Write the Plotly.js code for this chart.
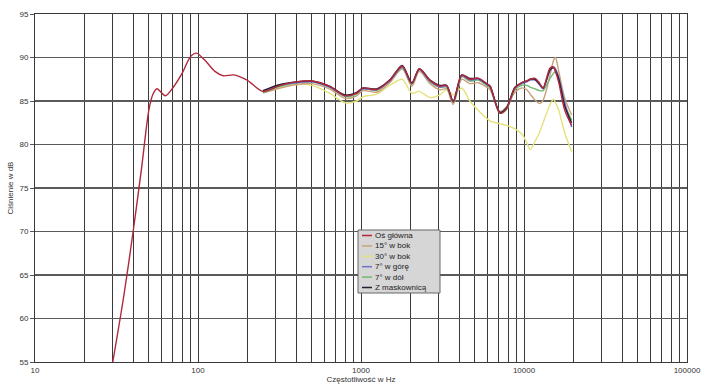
<!DOCTYPE html>
<html>
<head>
<meta charset="utf-8">
<script src="https://cdn.plot.ly/plotly-3.0.1.min.js"></script>
<style>html,body{margin:0;padding:0;background:#fff;}#chart{width:705px;height:389px;}</style>
</head>
<body>
<div id="chart"></div>
<script>
// Frequencies (Hz)
const freqLow = [30, 35, 40, 45, 50, 53, 56, 63, 70, 80, 90, 98, 110, 127, 143, 165, 200];
const freqHi = [250, 320, 400, 500, 640, 800, 940, 1030, 1250, 1500, 1790, 2050, 2280, 2650, 3050, 3350, 3680, 4150, 4650, 5250, 5900, 6200, 7100, 7800, 8800, 9700, 10400, 10900, 11700, 12400, 13100, 14450, 15200, 15600, 16300, 17800, 19600];

// SPL values (dB)
const mainLow = [55.0, 62.5, 70.0, 77.2, 84.0, 85.8, 86.4, 85.6, 86.5, 88.2, 90.1, 90.5, 89.7, 88.4, 87.9, 88.0, 87.4];
const mainHi = [86.1, 86.8, 87.2, 87.3, 86.7, 85.6, 85.9, 86.5, 86.3, 87.4, 89.0, 87.0, 88.7, 87.4, 86.7, 86.8, 84.9, 88.0, 87.5, 87.6, 87.0, 86.7, 83.6, 84.1, 86.5, 87.1, 87.3, 87.5, 87.6, 87.1, 86.5, 88.8, 88.9, 88.4, 87.2, 83.9, 82.2];
const side15 = [85.9, 86.5, 86.9, 87.0, 86.4, 85.3, 85.6, 86.2, 86.0, 87.1, 88.7, 86.7, 88.4, 87.0, 86.3, 86.4, 84.6, 87.5, 87.0, 87.1, 86.6, 86.3, 83.8, 84.3, 86.0, 86.5, 86.3, 85.8, 85.1, 84.7, 85.1, 88.0, 89.7, 90.0, 88.5, 85.3, 83.4];
const side30 = [86.0, 86.6, 86.9, 86.8, 85.9, 84.8, 85.0, 85.5, 85.8, 86.8, 87.5, 85.9, 86.1, 85.4, 85.7, 86.3, 85.7, 86.5, 85.0, 83.9, 83.0, 82.7, 82.4, 82.2, 81.8, 81.2, 80.2, 79.4, 80.4, 81.3, 82.5, 84.6, 85.2, 84.8, 84.0, 81.3, 79.2];
const up7 = [86.1, 86.8, 87.1, 87.2, 86.6, 85.6, 85.9, 86.4, 86.3, 87.3, 88.9, 87.0, 88.6, 87.3, 86.6, 86.7, 84.9, 87.9, 87.4, 87.5, 86.9, 86.6, 83.7, 84.2, 86.5, 87.0, 87.2, 87.4, 87.4, 86.9, 86.4, 88.5, 88.9, 88.7, 87.8, 84.8, 82.0];
const down7 = [86.0, 86.7, 87.1, 87.2, 86.6, 85.5, 85.8, 86.4, 86.2, 87.3, 88.8, 86.9, 88.6, 87.2, 86.6, 86.6, 84.8, 87.8, 87.3, 87.4, 86.8, 86.5, 83.6, 84.0, 86.3, 86.8, 86.8, 86.6, 86.4, 86.2, 86.2, 87.6, 88.2, 88.4, 87.6, 84.6, 82.8];
const grill = [86.2, 86.9, 87.2, 87.3, 86.7, 85.7, 86.0, 86.5, 86.4, 87.4, 89.1, 87.1, 88.7, 87.4, 86.8, 86.8, 85.0, 88.0, 87.6, 87.6, 87.0, 86.7, 83.7, 84.2, 86.6, 87.1, 87.3, 87.5, 87.5, 87.0, 86.5, 88.6, 88.8, 88.5, 87.6, 84.4, 82.5];

const seriesNames = ['Oś główna', '15° w bok', '30° w bok', '7° w górę', '7° w dół', 'Z maskownicą'];
const seriesColors = ['#b0283a', '#c9a27a', '#e4e27c', '#7070d0', '#72b872', '#2a1d33'];

const xTickVals = [10, 100, 1000, 10000, 100000];
const xTickText = ['10', '100', '1000', '10000', '100000'];
const yTickVals = [55, 60, 65, 70, 75, 80, 85, 90, 95];

// grid positions (1..9 x each decade)
const gridVals = [];
const gridText = [];
for (let d = 10; d < 100000; d *= 10) {
  for (let m = 1; m < 10; m++) {
    gridVals.push(d * m);
    const idx = xTickVals.indexOf(d * m);
    gridText.push(idx >= 0 ? xTickText[idx] : '');
  }
}
gridVals.push(100000); gridText.push('100000');

const mainFreq = freqLow.concat(freqHi);
const mainVals = mainLow.concat(mainHi);

function tr(x, y, i) {
  return {
    x: x, y: y, type: 'scatter', mode: 'lines', name: seriesNames[i],
    line: {color: seriesColors[i], width: 1.4, shape: 'spline', smoothing: 0.8},
    hoverinfo: 'skip', showlegend: false
  };
}

const data = [
  tr(freqHi, side30, 2),
  tr(freqHi, side15, 1),
  tr(freqHi, down7, 4),
  tr(freqHi, up7, 3),
  tr(freqHi, grill, 5),
  tr(mainFreq, mainVals, 0)
];

// compact legend box (layout geometry, in paper fractions)
const plotL = 35, plotT = 14, plotW = 652, plotH = 348;
const px = v => (v - plotL) / plotW;
const py = v => 1 - (v - plotT) / plotH;
const shapes = [{
  type: 'rect', xref: 'paper', yref: 'paper',
  x0: px(358), x1: px(440), y0: py(293), y1: py(230),
  fillcolor: '#d6d6d6', line: {color: '#666', width: 1}
}];
const annotations = [];
seriesNames.forEach((name, i) => {
  const rowY = 235.5 + i * 10.4;
  shapes.push({
    type: 'line', xref: 'paper', yref: 'paper',
    x0: px(362), x1: px(372), y0: py(rowY), y1: py(rowY),
    line: {color: seriesColors[i], width: 1.5}
  });
  annotations.push({
    xref: 'paper', yref: 'paper', x: px(373), y: py(rowY),
    xanchor: 'left', yanchor: 'middle', showarrow: false,
    text: name, font: {size: 8, color: '#222', family: 'Liberation Sans, Arial, sans-serif'}
  });
});

const layout = {
  width: 705, height: 389,
  margin: {l: 35, r: 18, t: 14, b: 27},
  paper_bgcolor: '#ffffff', plot_bgcolor: '#ffffff',
  font: {family: 'Liberation Sans, Arial, sans-serif', size: 8, color: '#333'},
  showlegend: false,
  shapes: shapes,
  annotations: annotations,
  xaxis: {
    type: 'log', range: [1, 5],
    tickmode: 'array', tickvals: gridVals, ticktext: gridText,
    showgrid: true, gridcolor: '#3a3a3a', gridwidth: 1,
    ticks: '', showline: true, linecolor: '#3a3a3a', linewidth: 1, mirror: true,
    tickfont: {size: 8, color: '#333'},
    title: {text: 'Częstotliwość w Hz', font: {size: 8, color: '#333'}, standoff: 2},
    zeroline: false, fixedrange: true
  },
  yaxis: {
    range: [55, 95], tickmode: 'array', tickvals: yTickVals,
    showgrid: true, gridcolor: '#5a5a5a', gridwidth: 1.5,
    ticks: 'outside', ticklen: 4, tickcolor: '#555',
    showline: true, linecolor: '#3a3a3a', linewidth: 1, mirror: true,
    tickfont: {size: 8, color: '#333'},
    title: {text: 'Ciśnienie w dB', font: {size: 8, color: '#333'}, standoff: 4},
    zeroline: false, fixedrange: true
  }
};

Plotly.newPlot('chart', data, layout, {displayModeBar: false, staticPlot: true});
</script>
</body>
</html>
